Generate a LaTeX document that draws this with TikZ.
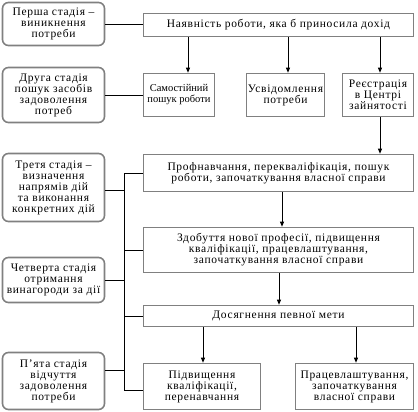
\documentclass[tikz,border=0pt]{standalone}
\usepackage{fontspec}
\setmainfont{Liberation Serif}[LetterSpace=6]
\newfontfamily\narrowfont{Liberation Serif}[LetterSpace=0]
\usetikzlibrary{arrows.meta}
\tikzset{
  base/.style={draw=gray, line width=1.6pt, align=center, inner sep=1pt,
    font=\fontsize{11.5}{11}\selectfont},
  rbox/.style={base, rounded corners=6pt},
  sbox/.style={base},
  conn/.style={black, line width=0.8pt},
  arr/.style={conn, -{Triangle[width=4pt,length=5pt]}}
}
\begin{document}
\begin{tikzpicture}[x=1pt,y=-1pt]
\useasboundingbox (0,0) rectangle (418,412);
% left stage boxes
\node[rbox, minimum width=102pt, minimum height=43pt] (L1) at (53.5,24) {Перша стадія –\\виникнення\\потреби};
\node[rbox, minimum width=102pt, minimum height=55pt] (L2) at (53.5,95) {Друга стадія\\пошук засобів\\задоволення\\потреб};
\node[rbox, minimum width=102pt, minimum height=68pt] (L3) at (53.5,187.5) {Третя стадія –\\визначення\\напрямів дій\\та виконання\\конкретних дій};
\node[rbox, minimum width=102pt, minimum height=45pt] (L4) at (53.5,280) {Четверта стадія\\отримання\\винагороди за дії};
\node[rbox, minimum width=102pt, minimum height=57pt] (L5) at (53.5,381) {П’ята стадія\\відчуття\\задоволення\\потреби};
% right boxes
\node[sbox, minimum width=270pt, minimum height=23pt] (A) at (278.5,25) {Наявність роботи, яка б приносила дохід};
\node[sbox, minimum width=71pt, minimum height=43pt, font=\narrowfont\fontsize{10.5}{11}\selectfont] (B) at (179,95) {Самостійний\\пошук роботи};
\node[sbox, minimum width=78pt, minimum height=43pt] (U) at (285.5,95) {Усвідомлення\\потреби};
\node[sbox, minimum width=71pt, minimum height=43pt] (R) at (378,95) {Реєстрація\\в Центрі\\зайнятості};
\node[sbox, minimum width=270pt, minimum height=37pt] (C) at (278.5,173) {Профнавчання, перекваліфікація, пошук\\роботи, започаткування власної справи};
\node[sbox, minimum width=270pt, minimum height=45pt] (D) at (278.5,250) {Здобуття нової професії, підвищення\\кваліфікації, працевлаштування,\\започаткування власної справи};
\node[sbox, minimum width=270pt, minimum height=21pt] (E) at (278.5,316) {Досягнення певної мети};
\node[sbox, minimum width=117pt, minimum height=46pt] (F) at (202,386.5) {Підвищення\\кваліфікації,\\перенавчання};
\node[sbox, minimum width=118pt, minimum height=46pt] (G) at (354.5,386.5) {Працевлаштування,\\започаткування\\власної справи};
% helper coordinates
\coordinate (xb) at (188,0);
\coordinate (xu) at (288,0);
\coordinate (xr) at (380,0);
\coordinate (xd) at (282,0);
\coordinate (xe) at (279,0);
\coordinate (xf) at (203,0);
\coordinate (xg) at (356,0);
\coordinate (bus) at (124,0);
\coordinate (y3) at (0,190);
\coordinate (y5) at (0,370);
\coordinate (yf) at (0,390);
% connectors
\draw[conn] (L1.east) -- (L1.east -| A.west);
\draw[conn] (L2.east) -- (B.west);
\draw[arr] (A.south -| xb) -- (B.north -| xb);
\draw[arr] (A.south -| xu) -- (U.north -| xu);
\draw[arr] (A.south -| xr) -- (R.north -| xr);
\draw[arr] (R.south -| xr) -- (C.north -| xr);
\draw[arr] (C.south -| xd) -- (D.north -| xd);
\draw[arr] (D.south -| xe) -- (E.north -| xe);
\draw[arr] (E.south -| xf) -- (F.north -| xf);
\draw[arr] (E.south -| xg) -- (G.north -| xg);
% bus
\draw[conn] (bus |- C.west) -- (bus |- yf);
\draw[conn] (bus |- C.west) -- (C.west);
\draw[conn] (bus |- D.west) -- (D.west);
\draw[conn] (bus |- E.west) -- (E.west);
\draw[conn] (bus |- yf) -- (F.west |- yf);
\draw[conn] (L3.east |- y3) -- (bus |- y3);
\draw[conn] (L4.east) -- (bus |- L4.east);
\draw[conn] (L5.east |- y5) -- (bus |- y5);
\end{tikzpicture}
\end{document}
